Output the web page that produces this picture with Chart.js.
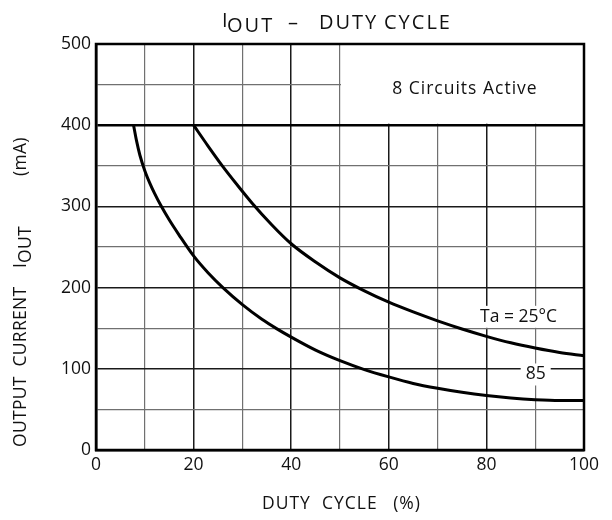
<!DOCTYPE html>
<html>
<head>
<meta charset="utf-8">
<script src="https://cdn.jsdelivr.net/npm/chart.js@4.4.1/dist/chart.umd.min.js"></script>
<style>
  html, body { margin: 0; padding: 0; background: #fff; }
  #chart { display: block; }
</style>
</head>
<body>
<canvas id="chart" width="612" height="520"></canvas>
<script>
/* data */
const duty25 = [20, 23, 26, 29, 32, 36, 40, 45, 50, 55, 60, 65, 70, 75, 80, 85, 90, 95, 100];
const iout25 = [400, 374, 349, 326, 304, 277.5, 254, 231.5, 212, 196, 182, 170, 159, 149, 140, 132, 125.5, 120, 116];

const duty85 = [7.7, 8.3, 9, 10, 11, 12, 13.3, 15, 17, 20, 23, 26, 30, 34, 37, 40, 45, 50, 55, 60, 65, 70, 75, 80, 85, 90, 95, 100];
const iout85 = [400, 381, 363, 344, 329, 316, 301, 283.5, 265, 239, 218, 200, 179, 161, 149.5, 139, 123, 110, 99, 90, 82, 76, 71, 67, 64, 62, 61, 61];

const xTicks = [0, 20, 40, 60, 80, 100];
const yTicks = [0, 100, 200, 300, 400, 500];

const FONT = '"Open Sans", "DejaVu Sans", sans-serif';

const toPoints = (xs, ys) => xs.map((x, i) => ({x: x, y: ys[i]}));

/* text, frame and the blank "8 Circuits Active" box */
const sheetPlugin = {
  id: 'sheet',
  beforeDatasetsDraw(chart) {
    const {ctx, chartArea: a, scales: {x, y}} = chart;
    // blank out the grid in the upper right box
    ctx.save();
    ctx.fillStyle = '#fff';
    ctx.fillRect(x.getPixelForValue(50) + 1, a.top, a.right - x.getPixelForValue(50) - 1, y.getPixelForValue(400) - a.top - 1.5);
    ctx.restore();
  },
  afterDatasetsDraw(chart) {
    const {ctx, chartArea: a, scales: {x, y}} = chart;
    ctx.save();
    // frame
    ctx.strokeStyle = '#000';
    ctx.lineWidth = 2.5;
    ctx.strokeRect(a.left, a.top, a.right - a.left, a.bottom - a.top);

    ctx.fillStyle = '#111';
    ctx.textAlign = 'center';
    ctx.textBaseline = 'middle';
    ctx.letterSpacing = '1px';

    // box label
    ctx.font = '17.5px ' + FONT;
    ctx.fillText('8 Circuits Active', x.getPixelForValue(75.6), y.getPixelForValue(445));

    // curve labels with white behind them
    const tag = (txt, vx, vy) => {
      const px = x.getPixelForValue(vx), py = y.getPixelForValue(vy);
      const w = ctx.measureText(txt).width + 10;
      ctx.fillStyle = '#fff';
      ctx.fillRect(px - w / 2, py - 11, w, 22);
      ctx.fillStyle = '#111';
      ctx.fillText(txt, px, py);
    };
    ctx.letterSpacing = '0px';
    tag('Ta = 25°C', 86.6, 164);
    tag('85', 90.1, 93);

    // title
    ctx.textAlign = 'left';
    ctx.textBaseline = 'alphabetic';
    ctx.font = '20px ' + FONT;
    ctx.letterSpacing = '2px';
    ctx.fillText('I', 222, 27);
    ctx.fillText('OUT', 227, 31.5);
    ctx.fillText('–', 288, 28.5);
    ctx.fillText('DUTY', 319, 28.5);
    ctx.fillText('CYCLE', 384, 28.5);

    // x title
    ctx.font = '17.5px ' + FONT;
    ctx.letterSpacing = '1px';
    ctx.fillText('DUTY  CYCLE', 262, 509);
    ctx.textAlign = 'right';
    ctx.fillText('(%)', 421, 509);

    // y title, rotated
    ctx.translate(26, 0);
    ctx.rotate(-Math.PI / 2);
    ctx.textAlign = 'left';
    ctx.letterSpacing = '0.3px';
    ctx.fillText('OUTPUT  CURRENT', -447, 0);
    ctx.fillText('I', -268, 0);
    ctx.fillText('OUT', -263, 4.5);
    ctx.fillText('(mA)', -176, 0);
    ctx.restore();
  }
};

const gridColor = (ctx, major) => {
  const v = ctx.tick ? ctx.tick.value : 0;
  return v % major === 0 ? '#1a1a1a' : '#707070';
};

new Chart(document.querySelector('#chart'), {
  type: 'scatter',
  data: {
    datasets: [{
      label: 'Ta = 25°C',
      data: toPoints(duty25, iout25),
      showLine: true,
      borderColor: '#000',
      borderWidth: 3,
      pointRadius: 0,
      cubicInterpolationMode: 'monotone'
    }, {
      label: '85',
      data: toPoints(duty85, iout85),
      showLine: true,
      borderColor: '#000',
      borderWidth: 3,
      pointRadius: 0,
      cubicInterpolationMode: 'monotone'
    }]
  },
  options: {
    responsive: false,
    animation: false,
    layout: {
      padding: {top: 44, right: 28, left: 0, bottom: 0}
    },
    plugins: {
      legend: {display: false},
      tooltip: {enabled: false},
      title: {display: false}
    },
    scales: {
      x: {
        type: 'linear',
        min: 0,
        max: 100,
        afterFit: s => { s.height = 70; },
        ticks: {
          stepSize: 10,
          padding: 5,
          color: '#111',
          font: {family: FONT, size: 17.5},
          maxRotation: 0,
          callback: v => xTicks.includes(v) ? v : ''
        },
        grid: {
          drawTicks: false,
          color: c => gridColor(c, 20),
          lineWidth: c => (c.tick && c.tick.value % 20 === 0) ? 1.5 : 1.2
        },
        border: {display: true, color: '#000', width: 2.5}
      },
      y: {
        type: 'linear',
        min: 0,
        max: 500,
        afterFit: s => { s.width = 96; },
        ticks: {
          stepSize: 50,
          padding: 5,
          color: '#111',
          font: {family: FONT, size: 17.5},
          callback: v => yTicks.includes(v) ? v : ''
        },
        grid: {
          drawTicks: false,
          color: c => (c.tick && c.tick.value === 400) ? '#000' : gridColor(c, 100),
          lineWidth: c => {
            const v = c.tick ? c.tick.value : 0;
            if (v === 400) return 2.5;
            return v % 100 === 0 ? 1.5 : 1.2;
          }
        },
        border: {display: true, color: '#000', width: 2.5}
      }
    }
  },
  plugins: [sheetPlugin]
});
</script>
</body>
</html>
